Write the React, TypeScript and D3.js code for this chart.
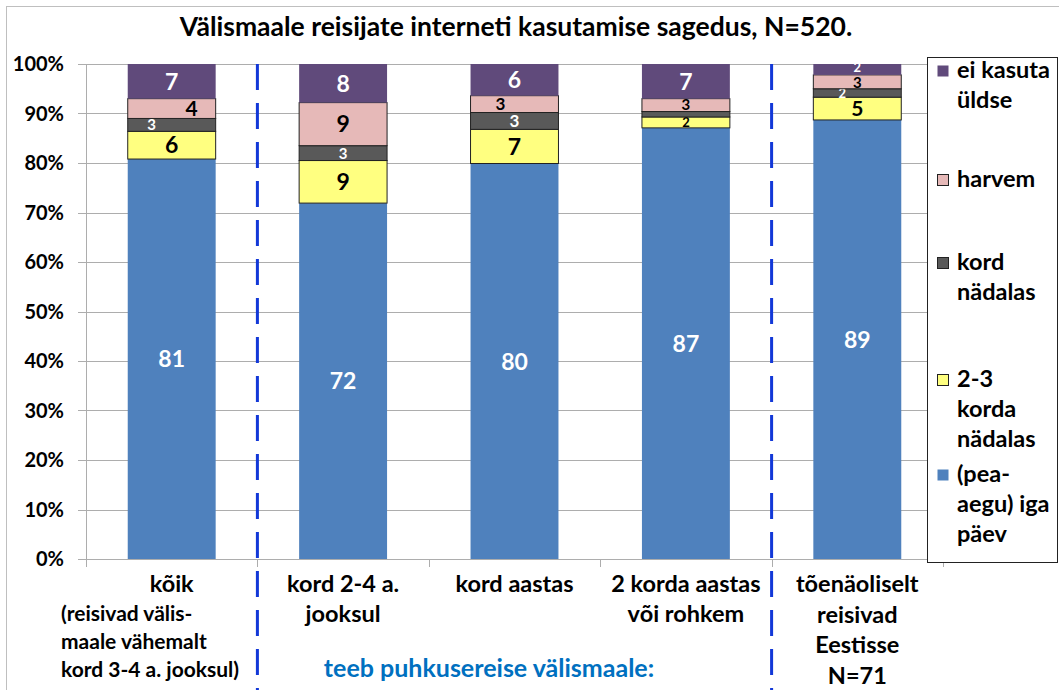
import React, { useEffect, useRef } from 'react';
import * as d3 from 'd3';

// categories (x axis), bottom-to-top series values in percent
const categoryKeys = ['koik', 'kord24', 'aastas', 'kaks', 'eesti'];
const categoryTitles = [
  ['kõik'],
  ['kord 2-4 a.', 'jooksul'],
  ['kord aastas'],
  ['2 korda aastas', 'või rohkem'],
  ['tõenäoliselt', 'reisivad', 'Eestisse', 'N=71'],
];
const koikNote = ['(reisivad välis-', 'maale vähemalt', 'kord 3-4 a. jooksul)'];
const groupNote = 'teeb puhkusereise välismaale:';

const seriesKeys = ['daily', 'twoThree', 'weekly', 'rarer', 'never'];
const seriesLegend = [
  ['(pea-', 'aegu) iga', 'päev'],
  ['2-3', 'korda', 'nädalas'],
  ['kord', 'nädalas'],
  ['harvem'],
  ['ei kasuta', 'üldse'],
];
const dailyValues = [80.8, 71.9, 79.9, 87.1, 88.7];
const twoThreeValues = [5.6, 8.6, 6.9, 2.2, 4.6];
const weeklyValues = [2.6, 3.0, 3.4, 1.1, 1.7];
const rarerValues = [4.0, 8.7, 3.4, 2.6, 2.8];
const neverValues = [7.0, 7.8, 6.4, 7.0, 2.2];

const yTicks = [0, 0.1, 0.2, 0.3, 0.4, 0.5, 0.6, 0.7, 0.8, 0.9, 1];
const title = 'Välismaale reisijate interneti kasutamise sagedus, N=520.';

const colors: Record<string, string> = {
  daily: '#4F81BD',
  twoThree: '#FFFF80',
  weekly: '#595959',
  rarer: '#E6B9B8',
  never: '#604A7B',
};
const textColors: Record<string, string> = {
  daily: '#fff',
  twoThree: '#000',
  weekly: '#fff',
  rarer: '#000',
  never: '#fff',
};
const bordered = new Set(['twoThree', 'weekly', 'rarer']);
// hand-moved labels as in the original
const labelDx: Record<string, number> = {
  'koik|rarer': 20,
  'koik|weekly': -20,
  'aastas|rarer': -14,
  'eesti|weekly': -15,
};
const labelDy: Record<string, number> = {
  'eesti|never': -2,
  'eesti|rarer': 1,
};

const FONT = 'Lato, "Open Sans", sans-serif';

const App: React.FC = () => {
  const ref = useRef<SVGSVGElement | null>(null);

  useEffect(() => {
    const svg = d3.select(ref.current);
    svg.selectAll('*').remove();

    const plotLeft = 86;
    const plotRight = 943;
    const plotTop = 64;
    const plotBottom = 559;

    const rows = categoryKeys.map((k, i) => ({
      key: k,
      daily: dailyValues[i],
      twoThree: twoThreeValues[i],
      weekly: weeklyValues[i],
      rarer: rarerValues[i],
      never: neverValues[i],
    }));

    const x = d3.scaleBand<string>()
      .domain(categoryKeys)
      .range([plotLeft, plotRight])
      .paddingInner(0.487)
      .paddingOuter(0.2435);
    const y = d3.scaleLinear().domain([0, 100]).range([plotBottom, plotTop]);
    const step = x.step();
    const center = (k: string) => (x(k) as number) + x.bandwidth() / 2;
    const boundary = (i: number) => plotLeft + i * step;

    // outer chart frame
    svg.append('rect')
      .attr('x', 6.5).attr('y', 6.5)
      .attr('width', 1200).attr('height', 1000)
      .attr('fill', 'white').attr('stroke', '#BFBFBF');

    svg.append('text')
      .attr('x', 516).attr('y', 36)
      .attr('text-anchor', 'middle')
      .attr('font-family', FONT).attr('font-weight', 700).attr('font-size', 26.5)
      .text(title);

    // gridlines + y axis
    const grid = svg.append('g');
    grid.selectAll('line.h')
      .data(yTicks)
      .enter()
      .append('line')
      .attr('x1', plotLeft - 8).attr('x2', plotRight)
      .attr('y1', (d) => Math.round(y(d * 100)) + 0.5)
      .attr('y2', (d) => Math.round(y(d * 100)) + 0.5)
      .attr('stroke', '#ADADAD').attr('stroke-width', 1);
    grid.append('line')
      .attr('x1', plotLeft + 0.5).attr('x2', plotLeft + 0.5)
      .attr('y1', plotTop).attr('y2', plotBottom)
      .attr('stroke', '#ADADAD');
    grid.selectAll('line.t')
      .data(d3.range(categoryKeys.length + 1))
      .enter()
      .append('line')
      .attr('x1', (i) => Math.round(boundary(i)) + 0.5)
      .attr('x2', (i) => Math.round(boundary(i)) + 0.5)
      .attr('y1', plotBottom).attr('y2', plotBottom + 8)
      .attr('stroke', '#ADADAD');
    grid.selectAll('text')
      .data(yTicks)
      .enter()
      .append('text')
      .attr('x', 64).attr('y', (d) => y(d * 100) + 7)
      .attr('text-anchor', 'end')
      .attr('font-family', FONT).attr('font-weight', 700).attr('font-size', 20)
      .text((d) => d3.format('.0%')(d));

    // stacked bars
    const stack = d3.stack<any>().keys(seriesKeys)(rows);
    stack.forEach((layer) => {
      const key = layer.key;
      const g = svg.append('g');
      g.selectAll('rect')
        .data(layer)
        .enter()
        .append('rect')
        .attr('x', (d: any) => x(d.data.key) as number)
        .attr('width', x.bandwidth())
        .attr('y', (d: any) => y(d[1]))
        .attr('height', (d: any) => y(d[0]) - y(d[1]))
        .attr('fill', colors[key])
        .attr('stroke', bordered.has(key) ? '#222' : 'none')
        .attr('stroke-width', 1);
      g.selectAll('text')
        .data(layer.filter((d: any) => Math.round(d[1] - d[0]) >= 2))
        .enter()
        .append('text')
        .attr('x', (d: any) => center(d.data.key) + (labelDx[`${d.data.key}|${key}`] || 0))
        .attr('y', (d: any) => (y(d[0]) + y(d[1])) / 2 + (labelDy[`${d.data.key}|${key}`] || 0))
        .attr('dy', '0.36em')
        .attr('text-anchor', 'middle')
        .attr('font-family', FONT).attr('font-weight', 700)
        .attr('font-size', (d: any) => {
          const h = y(d[0]) - y(d[1]);
          return h >= 25 ? 23 : h >= 18 ? 21 : h >= 15 ? 17 : h >= 12 ? 15 : 13;
        })
        .attr('fill', textColors[key])
        .text((d: any) => Math.round(d[1] - d[0]));
    });

    // dashed separators
    [1, 4].forEach((i) => {
      svg.append('line')
        .attr('x1', boundary(i)).attr('x2', boundary(i))
        .attr('y1', plotTop).attr('y2', 690)
        .attr('stroke', '#1238D8').attr('stroke-width', 3)
        .attr('stroke-dasharray', '26 13');
    });

    // x labels
    const xl = svg.append('g')
      .attr('font-family', FONT).attr('font-weight', 700).attr('font-size', 23.5)
      .attr('text-anchor', 'middle');
    categoryKeys.forEach((k, i) => {
      categoryTitles[i].forEach((line, j) => {
        xl.append('text')
          .attr('x', center(k))
          .attr('y', 592 + j * (i === 4 ? 30.5 : 30))
          .text(line);
      });
    });
    koikNote.forEach((line, j) => {
      xl.append('text')
        .attr('x', 61).attr('y', 621 + j * 28)
        .attr('text-anchor', 'start').attr('font-size', 21)
        .text(line);
    });
    xl.append('text')
      .attr('x', 489).attr('y', 677)
      .attr('fill', '#0070C0').attr('font-size', 25)
      .text(groupNote);

    // legend
    const lg = svg.append('g').attr('font-family', FONT).attr('font-weight', 700).attr('font-size', 23.5);
    lg.append('rect')
      .attr('x', 927.5).attr('y', 57.5).attr('width', 130).attr('height', 505)
      .attr('fill', 'white').attr('stroke', '#222');
    const legendTops = [78, 187, 270, 387, 482];
    const legendOrder = [...seriesKeys].reverse();
    legendOrder.forEach((key, i) => {
      const lines = seriesLegend[seriesKeys.indexOf(key)];
      lg.append('rect')
        .attr('x', 937.5).attr('y', legendTops[i] - 12.5)
        .attr('width', 11).attr('height', 11)
        .attr('fill', colors[key])
        .attr('stroke', bordered.has(key) ? '#222' : 'none');
      lines.forEach((line, j) => {
        lg.append('text')
          .attr('x', 957).attr('y', legendTops[i] + j * 30)
          .text(line);
      });
    });
  }, []);

  return (
    <svg ref={ref} width={1059} height={690}
      style={{ position: 'absolute', left: 0, top: 0, background: 'white' }} />
  );
};

export default App;
